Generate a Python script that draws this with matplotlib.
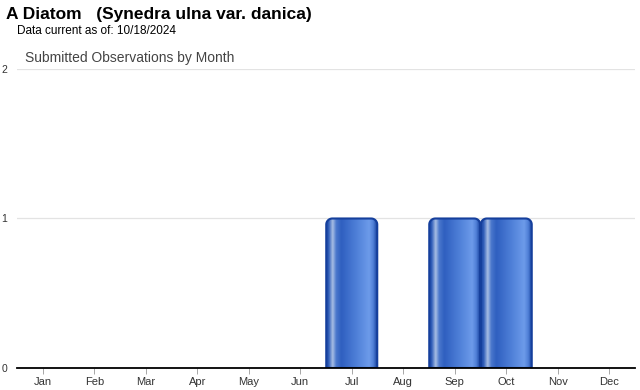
import numpy as np
import matplotlib
matplotlib.use("Agg")
import matplotlib.pyplot as plt
from matplotlib.path import Path
from matplotlib.patches import PathPatch
from matplotlib.colors import LinearSegmentedColormap

months = ["Jan", "Feb", "Mar", "Apr", "May", "Jun",
          "Jul", "Aug", "Sep", "Oct", "Nov", "Dec"]
counts = [0, 0, 0, 0, 0, 0, 1, 0, 1, 1, 0, 0]
y_ticks = [0, 1, 2]

title = "A Diatom   (Synedra ulna var. danica)"
subtitle = "Data current as of: 10/18/2024"
chart_title = "Submitted Observations by Month"

fig = plt.figure(figsize=(6.4, 3.9), dpi=100)
ax = fig.add_axes([17 / 640, 1 - 368 / 390, 618 / 640, 299 / 390])

ax.set_xlim(-0.5, len(months) - 0.5)
ax.set_ylim(0, 2)

# horizontal shading across each bar
bar_cmap = LinearSegmentedColormap.from_list("bar", [
    (0.00, "#1a44a0"),
    (0.05, "#2e5cb8"),
    (0.13, "#a8bee4"),
    (0.20, "#4a78cc"),
    (0.30, "#2f5fc0"),
    (0.60, "#4f80d8"),
    (0.85, "#6d9bea"),
    (0.93, "#4f7fd6"),
    (1.00, "#1a44a0"),
])
grad = np.linspace(0, 1, 256).reshape(1, -1)

# corner radius in data units (about 6 px each way)
rx = 6 / 51.5
ry = 6 / 149.5


def rounded_top_path(x0, x1, top):
    t = np.linspace(0, np.pi / 2, 10)
    verts = [(x0, 0), (x0, top - ry)]
    # top-left corner
    for a in t:
        verts.append((x0 + rx - rx * np.cos(a), top - ry + ry * np.sin(a)))
    # top-right corner
    for a in t[::-1]:
        verts.append((x1 - rx + rx * np.cos(a), top - ry + ry * np.sin(a)))
    verts += [(x1, 0), (x0, 0)]
    codes = [Path.MOVETO] + [Path.LINETO] * (len(verts) - 2) + [Path.CLOSEPOLY]
    return Path(verts, codes)


width = 0.99
for i, v in enumerate(counts):
    if v <= 0:
        continue
    x0, x1 = i - width / 2, i + width / 2
    path = rounded_top_path(x0, x1, v)
    im = ax.imshow(grad, cmap=bar_cmap, aspect="auto",
                   extent=(x0, x1, 0, v), zorder=3, interpolation="bilinear")
    clip = PathPatch(path, transform=ax.transData, facecolor="none",
                     edgecolor="none")
    ax.add_patch(clip)
    im.set_clip_path(clip)
    ax.add_patch(PathPatch(path, facecolor="none", edgecolor="#153f9c",
                           linewidth=1.5, zorder=4))

ax.set_xlim(-0.5, len(months) - 0.5)
ax.set_ylim(0, 2)

ax.set_xticks(range(len(months)))
ax.set_xticklabels(months, fontsize=8, color="#333333", family="Liberation Sans")
ax.set_yticks(y_ticks)
ax.set_yticklabels([str(t) for t in y_ticks], fontsize=7.5, color="#333333",
                   family="Liberation Sans")
ax.tick_params(axis="x", length=4, width=0.6, color="#999999", pad=2.5)
ax.tick_params(axis="y", length=0, pad=7)

for y in y_ticks[1:]:
    ax.axhline(y, color="#e3e3e3", linewidth=0.9, zorder=1)

for s in ["top", "right", "left"]:
    ax.spines[s].set_visible(False)
ax.spines["bottom"].set_color("#000000")
ax.spines["bottom"].set_linewidth(1.3)
ax.spines["bottom"].set_zorder(5)

fig.text(6 / 640, 1 - 15 / 390, title, fontsize=12.5, fontweight="bold",
         family="Liberation Sans", va="center", ha="left", color="#000000")
fig.text(17 / 640, 1 - 31 / 390, subtitle, fontsize=8.5,
         family="Liberation Sans", va="center", ha="left", color="#000000")
fig.text(25 / 640, 1 - 58 / 390, chart_title, fontsize=10,
         family="Liberation Sans", va="center", ha="left", color="#444444")

fig.savefig("out.png", dpi=100)
